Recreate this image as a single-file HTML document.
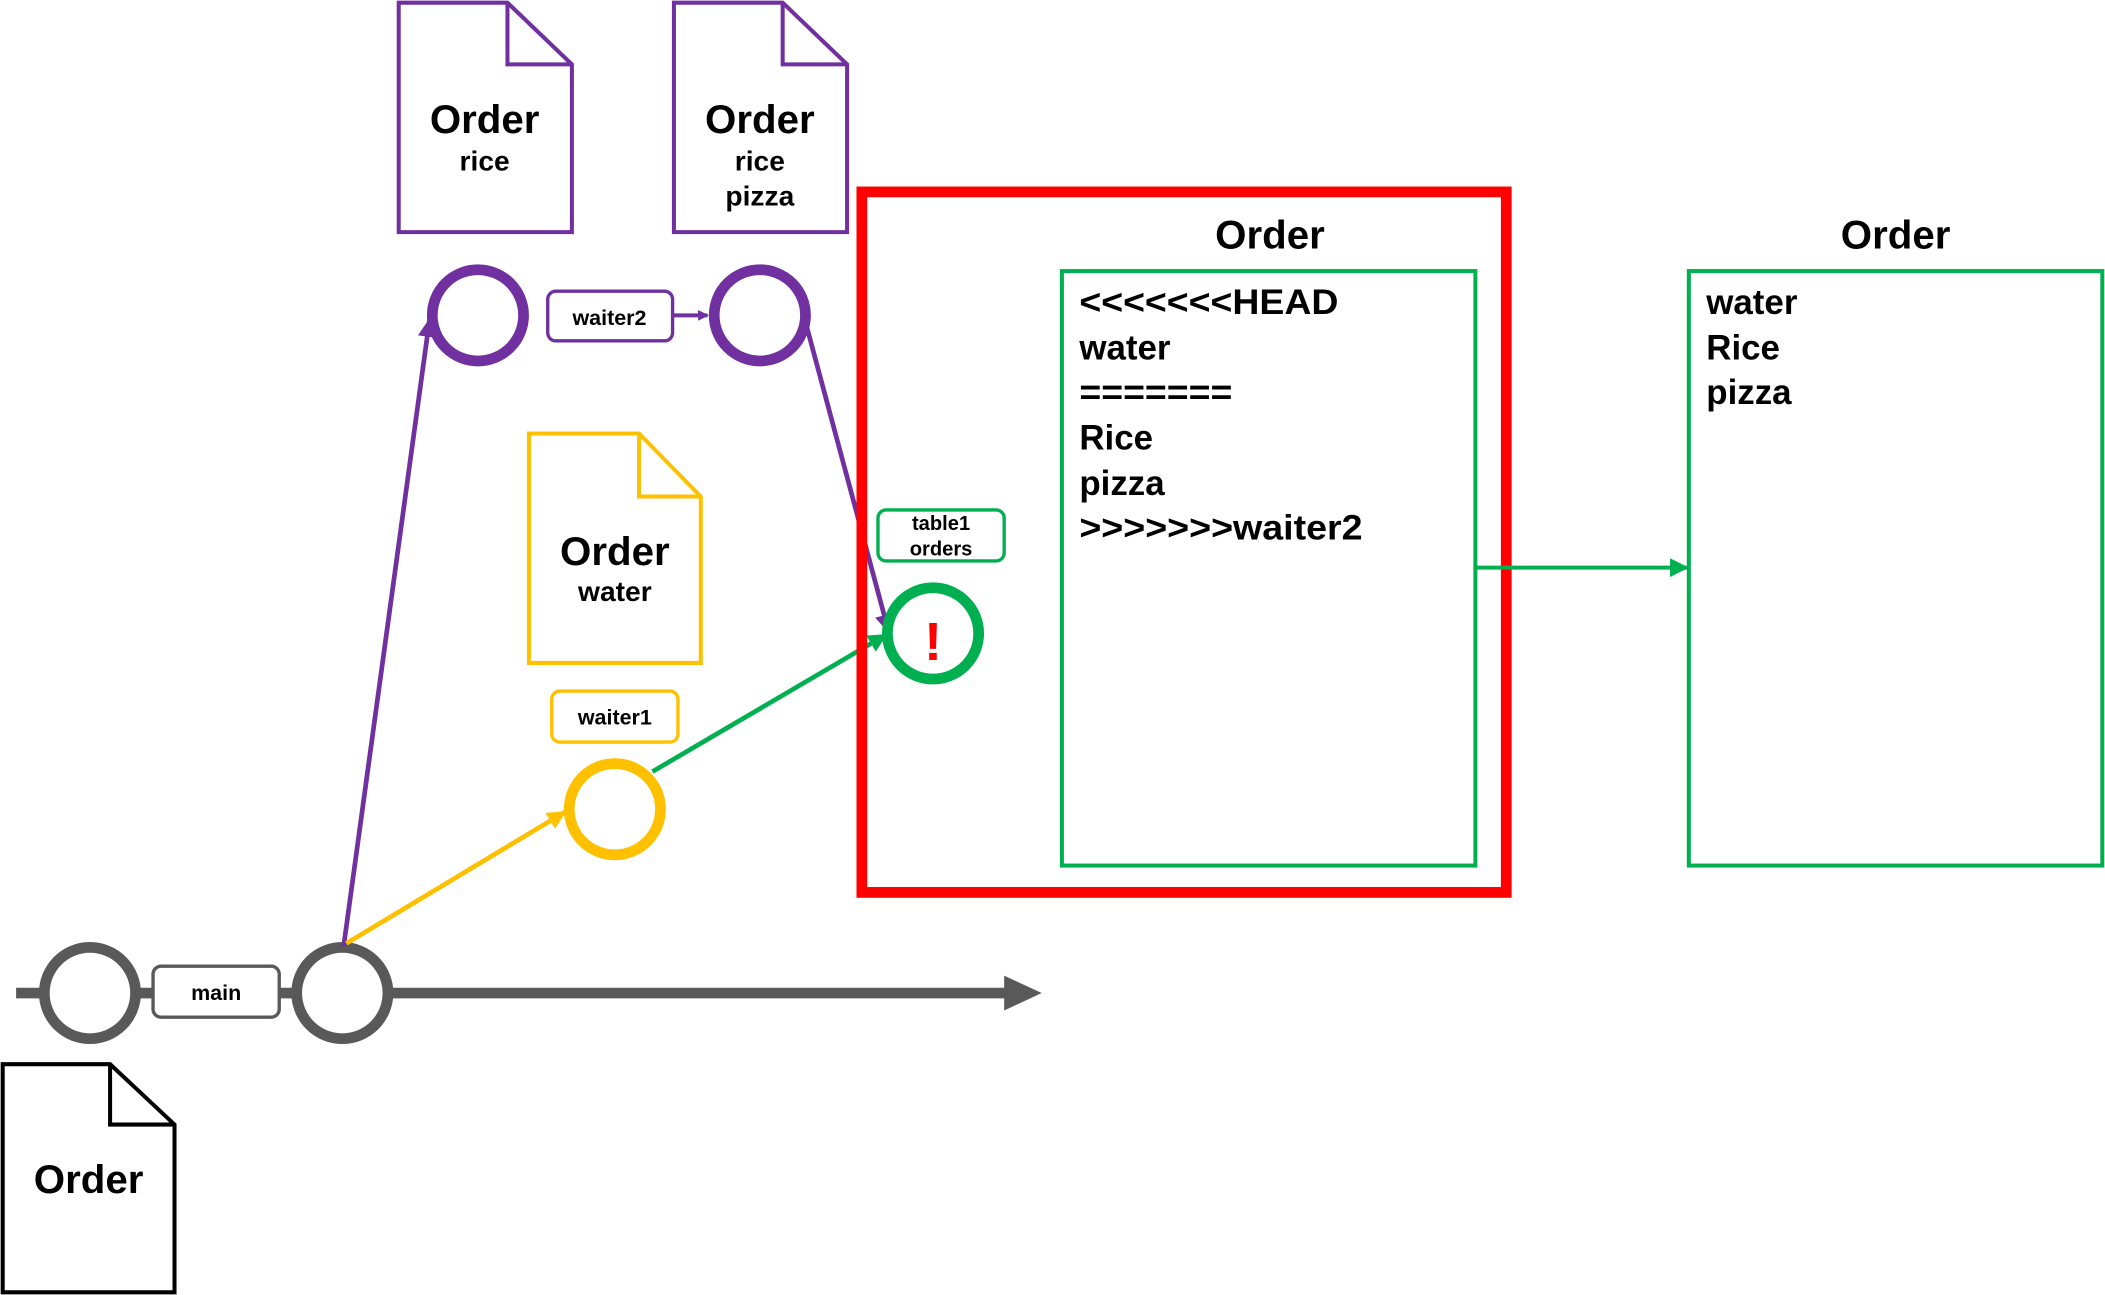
<!DOCTYPE html>
<html><head><meta charset="utf-8"><style>
html,body{margin:0;padding:0;background:#fff;}
svg{display:block;}
text{font-family:"Liberation Sans",Arial,sans-serif;font-weight:bold;}
</style></head><body>
<svg width="2105" height="1295" viewBox="0 0 1568 965" preserveAspectRatio="none" xmlns="http://www.w3.org/2000/svg">
<defs>
<marker id="ap" markerWidth="8" markerHeight="8" refX="7" refY="4" orient="auto" markerUnits="userSpaceOnUse" viewBox="0 0 8 8"><path d="M0,0 L8,4 L0,8 z" fill="#7030a0"/></marker>
<marker id="apu" markerWidth="14" markerHeight="14" refX="13" refY="7" orient="auto" markerUnits="userSpaceOnUse" viewBox="0 0 14 14"><path d="M0,0 L14,7 L0,14 z" fill="#7030a0"/></marker>
<marker id="ay" markerWidth="14" markerHeight="14" refX="13" refY="7" orient="auto" markerUnits="userSpaceOnUse" viewBox="0 0 14 14"><path d="M0,0 L14,7 L0,14 z" fill="#ffc000"/></marker>
<marker id="ag" markerWidth="14" markerHeight="14" refX="13" refY="7" orient="auto" markerUnits="userSpaceOnUse" viewBox="0 0 14 14"><path d="M0,0 L14,7 L0,14 z" fill="#00b050"/></marker>
</defs>

<line x1="12" y1="740" x2="752" y2="740" stroke="#595959" stroke-width="8"/>
<path d="M748,727 L776,740 L748,753 z" fill="#595959"/>
<rect x="114" y="720" width="94" height="38" rx="6" fill="#fff" stroke="#595959" stroke-width="2.5"/>
<text x="161" y="745" font-size="16" text-anchor="middle">main</text>
<circle cx="67" cy="740" r="34" fill="#fff" stroke="#595959" stroke-width="8"/>
<circle cx="255" cy="740" r="34" fill="#fff" stroke="#595959" stroke-width="8"/>

<path d="M2,793 L82,793 L130,838 L130,963 L2,963 z" fill="#fff" stroke="#000" stroke-width="3"/>
<path d="M82,793 L82,838 L130,838" fill="none" stroke="#000" stroke-width="3"/>
<text x="66" y="889" font-size="30" text-anchor="middle">Order</text>

<path d="M297,2 L378,2 L426,48 L426,173 L297,173 z" fill="#fff" stroke="#7030a0" stroke-width="3"/>
<path d="M378,2 L378,48 L426,48" fill="none" stroke="#7030a0" stroke-width="3"/>
<text x="361" y="99" font-size="30" text-anchor="middle">Order</text>
<text x="361" y="127" font-size="21" text-anchor="middle">rice</text>
<path d="M502,2 L583,2 L631,48 L631,173 L502,173 z" fill="#fff" stroke="#7030a0" stroke-width="3"/>
<path d="M583,2 L583,48 L631,48" fill="none" stroke="#7030a0" stroke-width="3"/>
<text x="566" y="99" font-size="30" text-anchor="middle">Order</text>
<text x="566" y="127" font-size="21" text-anchor="middle">rice</text>
<text x="566" y="153" font-size="21" text-anchor="middle">pizza</text>

<line x1="256" y1="705" x2="320" y2="238" stroke="#7030a0" stroke-width="3.5" marker-end="url(#apu)"/>
<line x1="600" y1="240" x2="662" y2="471" stroke="#7030a0" stroke-width="3.5" marker-end="url(#apu)"/>
<circle cx="356" cy="235" r="34" fill="#fff" stroke="#7030a0" stroke-width="8"/>
<circle cx="566" cy="235" r="34" fill="#fff" stroke="#7030a0" stroke-width="8"/>
<line x1="501" y1="235" x2="527" y2="235" stroke="#7030a0" stroke-width="3" marker-end="url(#ap)"/>
<rect x="408" y="217" width="93" height="37" rx="6" fill="#fff" stroke="#7030a0" stroke-width="2.5"/>
<text x="454" y="242" font-size="16" text-anchor="middle">waiter2</text>

<path d="M394,323 L476,323 L522,370 L522,494 L394,494 z" fill="#fff" stroke="#ffc000" stroke-width="3"/>
<path d="M476,323 L476,370 L522,370" fill="none" stroke="#ffc000" stroke-width="3"/>
<text x="458" y="421" font-size="30" text-anchor="middle">Order</text>
<text x="458" y="448" font-size="21" text-anchor="middle">water</text>
<rect x="411" y="515" width="94" height="38" rx="6" fill="#fff" stroke="#ffc000" stroke-width="2.5"/>
<text x="458" y="540" font-size="16" text-anchor="middle">waiter1</text>
<line x1="258" y1="703" x2="421" y2="605" stroke="#ffc000" stroke-width="3.5" marker-end="url(#ay)"/>
<circle cx="458" cy="603" r="34" fill="#fff" stroke="#ffc000" stroke-width="8"/>

<line x1="486" y1="575" x2="660" y2="473" stroke="#00b050" stroke-width="3.5" marker-end="url(#ag)"/>

<rect x="642" y="143" width="480" height="522" fill="none" stroke="#ff0000" stroke-width="8"/>
<rect x="654" y="380" width="94" height="38" rx="6" fill="#fff" stroke="#00b050" stroke-width="2.5"/>
<text x="701" y="395" font-size="15" text-anchor="middle">table1</text>
<text x="701" y="414" font-size="15" text-anchor="middle">orders</text>
<circle cx="695" cy="472" r="34" fill="#fff" stroke="#00b050" stroke-width="8"/>
<text x="695" y="492" font-size="40" fill="#ff0000" text-anchor="middle" font-weight="normal">!</text>

<text x="946" y="185" font-size="30" text-anchor="middle">Order</text>
<rect x="791" y="202" width="308" height="443" fill="#fff" stroke="#00b050" stroke-width="3"/>
<g font-size="26">
<text x="804" y="234" textLength="193" lengthAdjust="spacingAndGlyphs">&lt;&lt;&lt;&lt;&lt;&lt;&lt;HEAD</text>
<text x="804" y="268">water</text>
<text x="804" y="301" textLength="114" lengthAdjust="spacingAndGlyphs">=======</text>
<text x="804" y="335">Rice</text>
<text x="804" y="369">pizza</text>
<text x="804" y="402" textLength="211" lengthAdjust="spacingAndGlyphs">&gt;&gt;&gt;&gt;&gt;&gt;&gt;waiter2</text>
</g>

<line x1="1099" y1="423" x2="1257" y2="423" stroke="#00b050" stroke-width="3" marker-end="url(#ag)"/>

<text x="1412" y="185" font-size="30" text-anchor="middle">Order</text>
<rect x="1258" y="202" width="308" height="443" fill="#fff" stroke="#00b050" stroke-width="3"/>
<g font-size="26">
<text x="1271" y="234">water</text>
<text x="1271" y="268">Rice</text>
<text x="1271" y="301">pizza</text>
</g>
</svg>
</body></html>
